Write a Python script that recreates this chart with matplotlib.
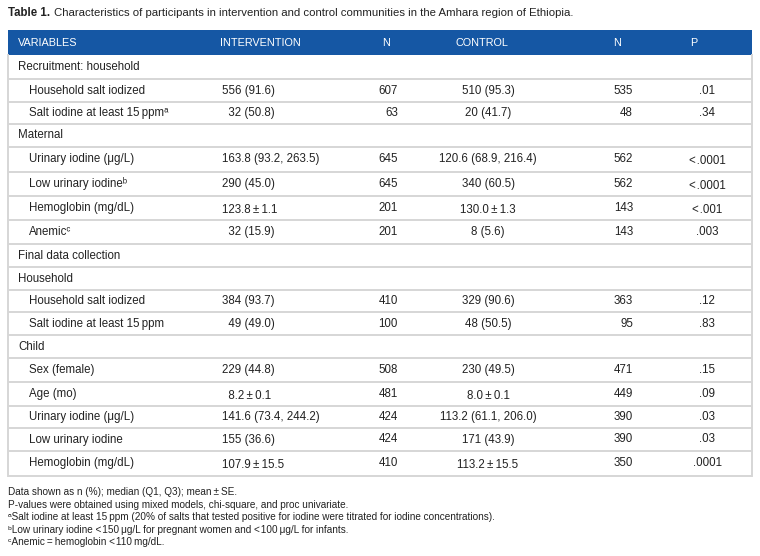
import matplotlib.pyplot as plt

plt.rcParams['font.family'] = ['Liberation Sans', 'DejaVu Sans']

FONT_SIZE = 8.3
HEAD_SIZE = 7.8
NOTE_SIZE = 7.2
BLUE = '#1557a4'
GRID = '#d6d6d6'
INK = '#222222'

TITLE_BOLD = 'Table 1.'
TITLE = 'Characteristics of participants in intervention and control communities in the Amhara region of Ethiopia.'

HEADERS = ['VARIABLES', 'INTERVENTION', 'N', 'CONTROL', 'N', 'P']

# section rows have None in the value columns
VARIABLES = ['Recruitment: household', 'Household salt iodized', 'Salt iodine at least 15\u2009ppmᵃ',
             'Maternal', 'Urinary iodine (μg/L)', 'Low urinary iodineᵇ', 'Hemoglobin (mg/dL)', 'Anemicᶜ',
             'Final data collection', 'Household', 'Household salt iodized', 'Salt iodine at least 15\u2009ppm',
             'Child', 'Sex (female)', 'Age (mo)', 'Urinary iodine (μg/L)', 'Low urinary iodine',
             'Hemoglobin (mg/dL)']
INTERVENTION = [None, '556 (91.6)', '\u200732 (50.8)', None, '163.8 (93.2, 263.5)', '290 (45.0)',
                '123.8\u2009±\u20091.1', '\u200732 (15.9)', None, None, '384 (93.7)', '\u200749 (49.0)', None,
                '229 (44.8)', '\u20078.2\u2009±\u20090.1', '141.6 (73.4, 244.2)', '155 (36.6)',
                '107.9\u2009±\u200915.5']
N_INTERVENTION = [None, 607, 63, None, 645, 645, 201, 201, None, None, 410, 100, None, 508, 481, 424, 424, 410]
CONTROL = [None, '510 (95.3)', '20 (41.7)', None, '120.6 (68.9, 216.4)', '340 (60.5)', '130.0\u2009±\u20091.3',
           '8 (5.6)', None, None, '329 (90.6)', '48 (50.5)', None, '230 (49.5)', '8.0\u2009±\u20090.1',
           '113.2 (61.1, 206.0)', '171 (43.9)', '113.2\u2009±\u200915.5']
N_CONTROL = [None, 535, 48, None, 562, 562, 143, 143, None, None, 363, 95, None, 471, 449, 390, 390, 350]
P_VALUES = [None, '.01', '.34', None, '<\u200a.0001', '<\u200a.0001', '<\u200a.001', '.003', None, None,
            '.12', '.83', None, '.15', '.09', '.03', '.03', '.0001']

FOOTNOTES = ['Data shown as n (%); median (Q1, Q3); mean\u2009±\u2009SE.',
             'P-values were obtained using mixed models, chi-square, and proc univariate.',
             'ᵃSalt iodine at least 15\u2009ppm (20% of salts that tested positive for iodine were titrated for iodine concentrations).',
             'ᵇLow urinary iodine <\u200a150\u2009μg/L for pregnant women and <\u200a100\u2009μg/L for infants.',
             'ᶜAnemic\u2009=\u2009hemoglobin <\u200a110\u2009mg/dL.']

# layout in pixels
W, H = 760, 556
LEFT, RIGHT = 8, 752
HEAD_TOP = 30
# row edges as measured on the original (rows are not all the same height)
ROW_EDGES = [55, 79.3, 102.3, 124.3, 146.7, 171.7, 195.7, 220, 244.3, 267.3, 290, 312.3, 335,
             358.3, 381.7, 405.7, 428.3, 450.7, 475.5]

fig = plt.figure(figsize=(W / 100, H / 100), dpi=100)
ax = fig.add_axes([0, 0, 1, 1])
ax.set_xlim(0, W)
ax.set_ylim(H, 0)
ax.axis('off')

# title
t = ax.text(LEFT, 13, TITLE_BOLD, fontsize=FONT_SIZE, fontweight='bold', va='center', ha='left', color=INK)
fig.canvas.draw()
bb = t.get_window_extent().transformed(ax.transData.inverted())
ax.text(bb.x1 + 4, 13, TITLE, fontsize=8.2, va='center', ha='left', color=INK)

# header band
ax.fill_between([LEFT, RIGHT], HEAD_TOP, ROW_EDGES[0], color=BLUE, lw=0)
head_x = [18, 220, 382, 455, 613, 690]
for x, h in zip(head_x, HEADERS):
    ax.text(x, (HEAD_TOP + ROW_EDGES[0]) / 2, h, color='white', fontsize=HEAD_SIZE, va='center', ha='left')

n_rows = len(VARIABLES)
bottom = ROW_EDGES[-1]

# grid lines
for y in ROW_EDGES[1:]:
    ax.plot([LEFT, RIGHT], [y, y], color=GRID, lw=1.4, solid_capstyle='butt')
ax.plot([LEFT, LEFT], [ROW_EDGES[0], bottom], color=GRID, lw=1.4)
ax.plot([RIGHT, RIGHT], [ROW_EDGES[0], bottom], color=GRID, lw=1.4)

for i in range(n_rows):
    yc = (ROW_EDGES[i] + ROW_EDGES[i + 1]) / 2
    section = INTERVENTION[i] is None
    ax.text(18 if section else 29, yc, VARIABLES[i], fontsize=FONT_SIZE, va='center', ha='left', color=INK)
    if section:
        continue
    # mean +/- SE cells sit a little lower in the original
    dy = 2 if '±' in INTERVENTION[i] else 0
    ax.text(222, yc + dy, INTERVENTION[i], fontsize=FONT_SIZE, va='center', ha='left', color=INK)
    ax.text(398, yc, str(N_INTERVENTION[i]), fontsize=FONT_SIZE, va='center', ha='right', color=INK)
    ax.text(488, yc + dy, CONTROL[i], fontsize=FONT_SIZE, va='center', ha='center', color=INK)
    ax.text(633, yc, str(N_CONTROL[i]), fontsize=FONT_SIZE, va='center', ha='right', color=INK)
    dp = 2 if P_VALUES[i].startswith('<') else 0
    ax.text(707, yc + dp, P_VALUES[i], fontsize=FONT_SIZE, va='center', ha='center', color=INK)

# footnotes
for k, note in enumerate(FOOTNOTES):
    ax.text(LEFT, 492 + k * 12.6, note, fontsize=NOTE_SIZE, va='center', ha='left', color=INK)

fig.savefig('out.png', dpi=100)
